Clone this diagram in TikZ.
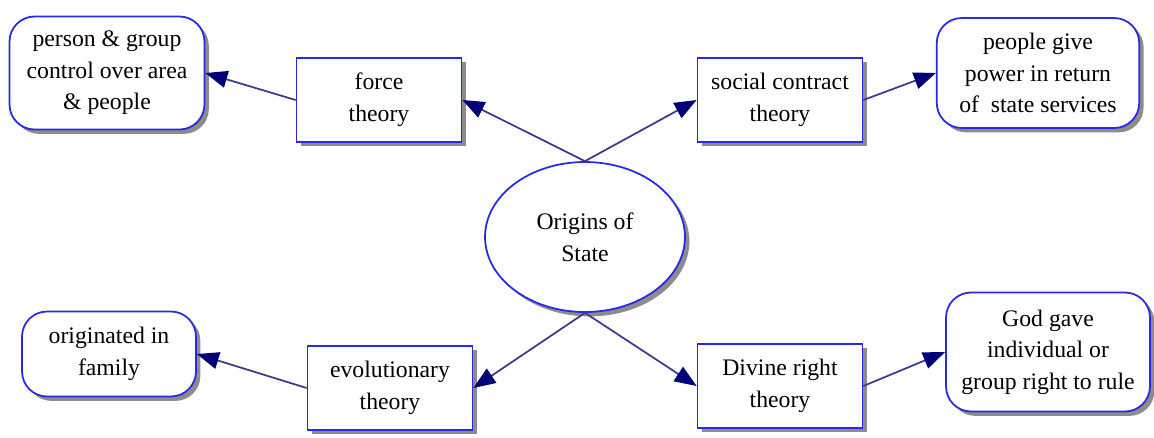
\documentclass[tikz,border=0pt]{standalone}
\usepackage{fontspec}
\setmainfont{Liberation Serif}
\usetikzlibrary{shapes, arrows.meta, shadows}

\definecolor{boxblue}{RGB}{40,40,230}
\definecolor{linkblue}{RGB}{60,60,140}
\definecolor{tipblue}{RGB}{0,0,120}

\tikzset{
  theory/.style={draw=boxblue, fill=white, line width=1pt, align=center,
    minimum width=3.3cm, minimum height=1.68cm, inner sep=0pt,
    font=\fontsize{13.5}{18}\selectfont,
    drop shadow={shadow xshift=2.5pt, shadow yshift=-2.5pt, fill=black!45, opacity=1}},
  idea/.style={theory, rounded corners=0.5cm, minimum width=3.9cm},
  origin/.style={theory, ellipse, minimum width=4cm, minimum height=3cm},
  link/.style={draw=linkblue, line width=1pt,
    -{Triangle[length=0.44cm, width=0.34cm, color=tipblue]}}
}

\begin{document}
\begin{tikzpicture}[x=0.02cm, y=-0.02cm]
\useasboundingbox (0,0) rectangle (1154,437);

\node[origin] (org) at (585,237) {Origins of\\State};

% theories
\node[theory] (force) at (379,100) {force\\theory};
\node[theory] (social) at (780,100) {social contract\\theory};
\node[theory] (evol) at (390,388) {evolutionary\\theory};
\node[theory] (divine) at (780,386) {Divine right\\theory};

% what they say
\node[idea, minimum height=2.26cm] (person) at (107,73) {person \& group\\control over area\\\& people};
\node[idea, minimum width=4.05cm, minimum height=2.2cm] (power) at (1038,73) {people give\\power in return\\of\ \ state services};
\node[idea, minimum width=3.48cm, minimum height=1.7cm] (family) at (109,354) {originated in\\family};
\node[idea, minimum width=4.08cm, minimum height=2.38cm] (god) at (1048,352) {God gave\\individual or\\group right to rule};

\draw[link] (org.north) -- (force.east);
\draw[link] (org.north) -- (social.west);
\draw[link] (org.south) -- (evol.east);
\draw[link] (org.south) -- (divine.west);

\draw[link] (force.west) -- (person.east);
\draw[link] (social.east) -- (power.west);
\draw[link] (evol.west) -- (family.east);
\draw[link] (divine.east) -- (god.west);

\end{tikzpicture}
\end{document}
